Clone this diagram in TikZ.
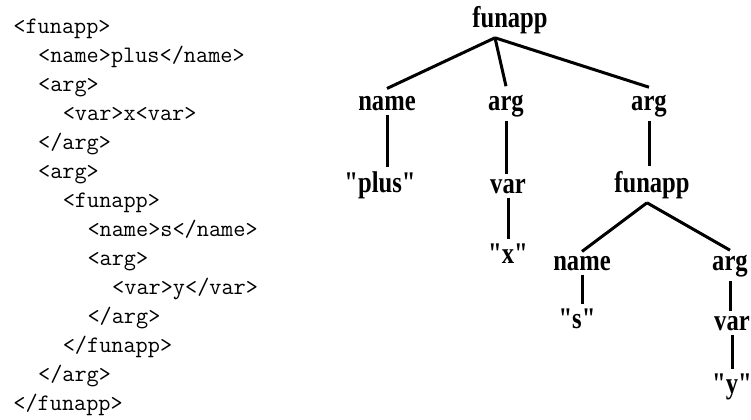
\documentclass[tikz,border=0pt]{standalone}
\usepackage{fontspec}
\newfontfamily\treefont[FakeStretch=0.82]{Liberation Serif}
\usepackage{tikz}

\tikzset{
    treenode/.style = {anchor = base, inner sep = 2pt, font = \fontsize{15}{15}\selectfont\treefont\bfseries},
    codeline/.style = {anchor = base west, inner sep = 0pt, font = \fontsize{11.8}{14.5}\selectfont\ttfamily},
    link/.style = {line width = 1.5pt}
}

\begin{document}
\begin{tikzpicture}[x = 0.5pt, y = -0.5pt]
        \useasboundingbox (0, 0) rectangle (751, 419);

        % XML listing
        \node [codeline] (c1) at (13, 33) {<funapp>};
        \node [codeline] (c2) at (37.7, 62) {<name>plus</name>};
        \node [codeline] (c3) at (37.7, 91) {<arg>};
        \node [codeline] (c4) at (62.4, 120) {<var>x<var>};
        \node [codeline] (c5) at (37.7, 149) {</arg>};
        \node [codeline] (c6) at (37.7, 178) {<arg>};
        \node [codeline] (c7) at (62.4, 207) {<funapp>};
        \node [codeline] (c8) at (87.1, 236) {<name>s</name>};
        \node [codeline] (c9) at (87.1, 265) {<arg>};
        \node [codeline] (c10) at (111.8, 294) {<var>y</var>};
        \node [codeline] (c11) at (87.1, 323) {</arg>};
        \node [codeline] (c12) at (62.4, 352) {</funapp>};
        \node [codeline] (c13) at (37.7, 381) {</arg>};
        \node [codeline] (c14) at (13, 410) {</funapp>};

        % Tree nodes
        \node [treenode] (root) at (510, 27) {funapp};
        \node [treenode] (nm1) at (387, 110) {name};
        \node [treenode] (arg1) at (506, 110) {arg};
        \node [treenode] (arg2) at (649, 110) {arg};
        \node [treenode] (plus) at (380, 192) {"plus"};
        \node [treenode] (var1) at (508, 193) {var};
        \node [treenode] (fun2) at (652, 192) {funapp};
        \node [treenode] (xval) at (508, 263) {"x"};
        \node [treenode] (nm2) at (582, 270) {name};
        \node [treenode] (arg3) at (730, 270) {arg};
        \node [treenode] (sval) at (577, 328) {"s"};
        \node [treenode] (var2) at (732, 330) {var};
        \node [treenode] (yval) at (732, 393) {"y"};

        % Branch points
        \coordinate (top1) at ([xshift = -7.5pt] root.south);
        \coordinate (top2) at ([xshift = -2.5pt] fun2.south);

        % Draw the links
        \draw [link] (top1) -- ([yshift = 1.5pt] nm1.north);
        \draw [link] (top1) -- ([yshift = 2pt] arg1.north);
        \draw [link] (top1) -- ([yshift = 1.5pt] arg2.north);
        \draw [link] (nm1.south) -- (nm1.south |- plus.north);
        \draw [link] (arg1.south) -- (arg1.south |- var1.north);
        \draw [link] (arg2.south) -- (arg2.south |- fun2.north);
        \draw [link] (var1.south) -- (var1.south |- xval.north);
        \draw [link] (top2) -- (nm2.north);
        \draw [link] (top2) -- (arg3.north);
        \draw [link] (nm2.south) -- (nm2.south |- sval.north);
        \draw [link] (arg3.south) -- (arg3.south |- var2.north);
        \draw [link] (var2.south) -- (var2.south |- yval.north);

    \end{tikzpicture}
\end{document}
